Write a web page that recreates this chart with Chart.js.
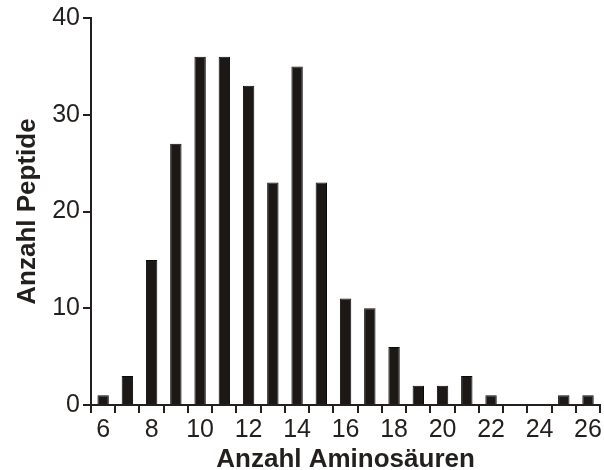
<!DOCTYPE html>
<html>
<head>
<meta charset="utf-8">
<script src="https://cdn.jsdelivr.net/npm/chart.js@4"></script>
<style>
  html, body { margin: 0; padding: 0; background: #fff; }
  #wrap { width: 604px; height: 470px; }
</style>
</head>
<body>
<div id="wrap"><canvas id="histChart" width="604" height="470"></canvas></div>
<script>
// Peptide length distribution (number of amino acids vs. number of peptides)
const aminoAcidCounts = [6, 7, 8, 9, 10, 11, 12, 13, 14, 15, 16, 17, 18, 19, 20, 21, 22, 23, 24, 25, 26];
const peptideCounts   = [1, 3, 15, 27, 36, 36, 33, 23, 35, 23, 11, 10, 6, 2, 2, 3, 1, 0, 0, 1, 1];
const xTickLabels     = [6, 8, 10, 12, 14, 16, 18, 20, 22, 24, 26];
const yTicks          = [0, 10, 20, 30, 40];

const ink = '#231f1d';
const fontFamily = '"Liberation Sans", Arial, Helvetica, sans-serif';

const ctx = document.getElementById('histChart').getContext('2d');
new Chart(ctx, {
  type: 'bar',
  data: {
    labels: aminoAcidCounts.map(String),
    datasets: [{
      label: 'Anzahl Peptide',
      data: peptideCounts,
      backgroundColor: '#1c1816',
      borderColor: '#0c0a09',
      borderWidth: 1,
      barPercentage: 0.47,
      categoryPercentage: 1.0
    }]
  },
  options: {
    responsive: false,
    animation: false,
    layout: { padding: { top: 11, right: 3, left: 12, bottom: -1 } },
    plugins: {
      legend: { display: false },
      tooltip: { enabled: false }
    },
    scales: {
      x: {
        offset: true,
        grid: {
          offset: true,
          drawOnChartArea: false,
          drawTicks: true,
          tickLength: 8,
          tickColor: ink,
          lineWidth: 2
        },
        border: { display: true, color: ink, width: 2 },
        ticks: {
          autoSkip: false,
          maxRotation: 0,
          padding: 2,
          color: ink,
          font: { family: fontFamily, size: 25 },
          callback: function (value) {
            const lbl = Number(this.getLabelForValue(value));
            return xTickLabels.includes(lbl) ? String(lbl) : '';
          }
        },
        title: {
          display: true,
          text: 'Anzahl Aminosäuren',
          color: ink,
          font: { family: fontFamily, size: 26, weight: 'bold', lineHeight: 1 },
          padding: { top: 0, bottom: -2 }
        }
      },
      y: {
        min: 0,
        max: 40,
        afterBuildTicks: function (axis) {
          axis.ticks = yTicks.map(v => ({ value: v }));
        },
        grid: {
          drawOnChartArea: false,
          drawTicks: true,
          tickLength: 8,
          tickColor: ink,
          lineWidth: 2
        },
        border: { display: true, color: ink, width: 2 },
        ticks: {
          padding: 3,
          color: ink,
          font: { family: fontFamily, size: 25 }
        },
        title: {
          display: true,
          text: 'Anzahl Peptide',
          color: ink,
          font: { family: fontFamily, size: 26, weight: 'bold' },
          padding: { top: 0, bottom: 6 }
        }
      }
    }
  }
});
</script>
</body>
</html>
